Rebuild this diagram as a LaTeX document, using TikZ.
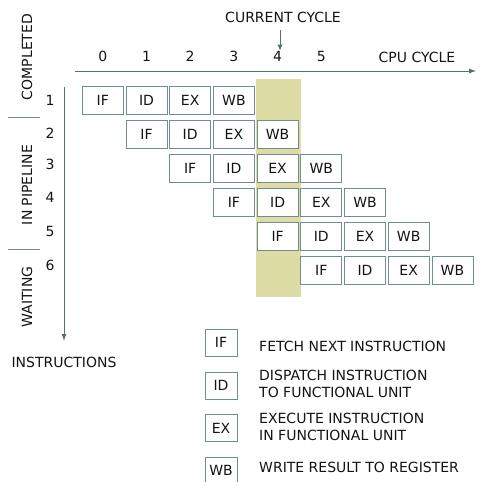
\documentclass[tikz,border=0pt]{standalone}
\usepackage{fontspec}
\setmainfont{DejaVu Sans}
\usetikzlibrary{arrows.meta}
\definecolor{bord}{RGB}{112,142,142}
\definecolor{hil}{RGB}{220,220,164}
\definecolor{axc}{RGB}{80,115,115}
\definecolor{txt}{RGB}{20,20,20}
\begin{document}
\begin{tikzpicture}[x=1pt,y=-1pt,
  every node/.style={text=txt},
  lbl/.style={font=\fontsize{14}{17}\selectfont, inner sep=0},
  stage/.style={draw=bord, line width=0.8pt, fill=white, minimum width=41pt, minimum height=28pt, inner sep=0, font=\fontsize{14}{17}\selectfont},
  legbox/.style={draw=bord, line width=0.8pt, fill=white, minimum width=32pt, minimum height=27pt, inner sep=0, font=\fontsize{14}{17}\selectfont},
  legtext/.style={font=\fontsize{14}{17}\selectfont, inner sep=0, anchor=west, align=left},
  axis/.style={draw=axc, line width=0.8pt, -{Latex[length=7pt,width=5pt]}},
  sep/.style={draw=bord, line width=0.8pt}]
\useasboundingbox (0,0) rectangle (493,489);
\begin{scope}
\clip (0,0) rectangle (493,481);
% highlight of current cycle
\fill[hil] (256,79) rectangle (301,297);
% axes
\coordinate (hx0) at (75,71);
\coordinate (hx1) at (476,71);
\coordinate (vy0) at (64,87);
\coordinate (vy1) at (64,341);
\draw[axis] (hx0) -- (hx1);
\draw[axis] (vy0) -- (vy1);
% column numbers
\foreach \c in {0,...,5} {
  \node[lbl] (col\c) at ({102.8+43.7*\c},56) {\c};
}
\node[lbl] (cpu) at (417,57) {CPU CYCLE};
\node[lbl] (cur) at (283,17) {CURRENT CYCLE};
\coordinate (cura) at (280,30);
\draw[axis, -{Latex[length=6pt,width=5pt]}] (cura) -- (col4.north -| cura);
% row numbers
\foreach \r/\yy in {1/100,2/133,3/164,4/197,5/231,6/265} {
  \node[lbl] (row\r) at (50,\yy) {\r};
}
% left categories
\node[lbl, rotate=90] (compl) at (27,57) {COMPLETED};
\node[lbl, rotate=90] (inpipe) at (27,185) {IN PIPELINE};
\node[lbl, rotate=90] (wait) at (27,297) {WAITING};
\coordinate (s1a) at (8,117); \coordinate (s1b) at (40,117);
\coordinate (s2a) at (8,249); \coordinate (s2b) at (40,249);
\draw[sep] (s1a) -- (s1b);
\draw[sep] (s2a) -- (s2b);
\node[lbl] (instr) at (64,362) {INSTRUCTIONS};
% pipeline stages
\foreach \r in {1,...,6} {
  \foreach \s/\t in {0/IF,1/ID,2/EX,3/WB} {
    \pgfmathsetmacro{\xx}{102.8+43.7*(\r-1+\s)}
    \pgfmathsetmacro{\yy}{100+34*(\r-1)}
    \node[stage] (b\r\t) at (\xx,\yy) {\t};
  }
}
% legend
\node[legbox] (lIF) at (221,342.5) {IF};
\node[legbox] (lID) at (221,385.5) {ID};
\node[legbox] (lEX) at (221,428) {EX};
\node[legbox] (lWB) at (221,470.5) {WB};
\node[legtext] (tIF) at (259,346) {FETCH NEXT INSTRUCTION};
\node[legtext] (tID) at (259,383.5) {DISPATCH INSTRUCTION\\TO FUNCTIONAL UNIT};
\node[legtext] (tEX) at (259,426.5) {EXECUTE INSTRUCTION\\IN FUNCTIONAL UNIT};
\node[legtext] (tWB) at (259,467) {WRITE RESULT TO REGISTER};
\end{scope}
\end{tikzpicture}
\end{document}
